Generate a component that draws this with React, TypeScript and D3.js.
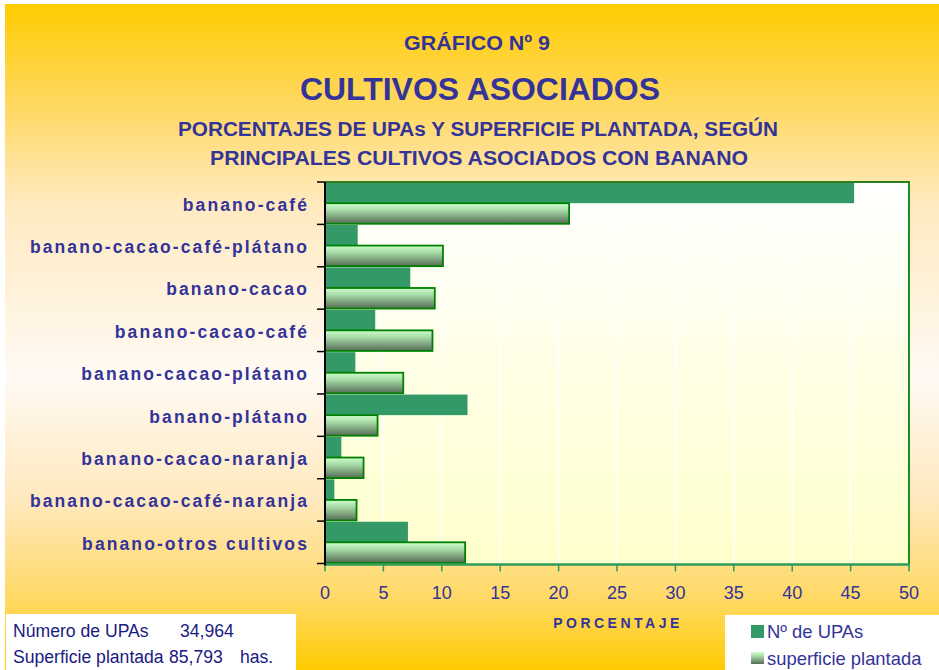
import React from "react";
import * as d3 from "d3";

const categories = [
  "banano-café",
  "banano-cacao-café-plátano",
  "banano-cacao",
  "banano-cacao-café",
  "banano-cacao-plátano",
  "banano-plátano",
  "banano-cacao-naranja",
  "banano-cacao-café-naranja",
  "banano-otros cultivos",
];
const upas = [45.3, 2.8, 7.3, 4.3, 2.6, 12.2, 1.4, 0.8, 7.1];
const superficie = [20.9, 10.1, 9.4, 9.2, 6.7, 4.5, 3.3, 2.7, 12.0];
const seriesNames = ["Nº de UPAs", "superficie plantada"];
const xTicks = [0, 5, 10, 15, 20, 25, 30, 35, 40, 45, 50];

const W = 939;
const H = 670;
const FONT = "'Liberation Sans', Arial, sans-serif";
const BLUE = "#333399";

export default function App() {
  const x = d3.scaleLinear().domain([0, 50]).range([325, 909]);
  const y = d3.scaleBand<string>().domain(categories).range([182, 563.5]).paddingInner(0);
  const sub = d3.scaleBand<string>().domain(["upas", "sup"]).range([0, y.bandwidth()]).paddingInner(0).paddingOuter(0.03);
  const plotTop = 182;
  const plotBottom = 564.5;
  const plotLeft = x(0);
  const plotRight = x(50);

  return (
    <svg width={W} height={H} style={{ position: "absolute", left: 0, top: 0 }} fontFamily={FONT}>
      <defs>
        <linearGradient id="bg" x1="0" y1="0" x2="0" y2="1">
          <stop offset="0" stopColor="#FFCC00" />
          <stop offset="0.15" stopColor="#FFD860" />
          <stop offset="0.3" stopColor="#FFEAC0" />
          <stop offset="0.56" stopColor="#FFFAF4" />
          <stop offset="0.75" stopColor="#FFE8BC" />
          <stop offset="0.9" stopColor="#FFD860" />
          <stop offset="1" stopColor="#FFCC00" />
        </linearGradient>
        <linearGradient id="plotbg" x1="0" y1="0" x2="0" y2="1">
          <stop offset="0" stopColor="#FFFFFF" />
          <stop offset="1" stopColor="#FFFFCC" />
        </linearGradient>
        <linearGradient id="barg" x1="0" y1="0" x2="0" y2="1">
          <stop offset="0" stopColor="#CCFFCC" />
          <stop offset="0.35" stopColor="#A6D9A6" />
          <stop offset="1" stopColor="#556B55" />
        </linearGradient>
      </defs>
      <rect x={0} y={0} width={W} height={H} fill="#FFFFFF" />
      <rect x={5} y={4} width={W - 5} height={H - 4} fill="url(#bg)" />

      {/* Titles */}
      <text x={404} y={50} fontSize={21} fontWeight="bold" fill={BLUE} textLength={146} lengthAdjust="spacingAndGlyphs">
        GRÁFICO Nº 9
      </text>
      <text x={300} y={100} fontSize={31} fontWeight="bold" fill={BLUE} textLength={360} lengthAdjust="spacingAndGlyphs">
        CULTIVOS ASOCIADOS
      </text>
      <text x={178} y={136} fontSize={20} fontWeight="bold" fill={BLUE} textLength={600} lengthAdjust="spacingAndGlyphs">
        PORCENTAJES DE UPAs Y SUPERFICIE PLANTADA, SEGÚN
      </text>
      <text x={210} y={165} fontSize={20} fontWeight="bold" fill={BLUE} textLength={538} lengthAdjust="spacingAndGlyphs">
        PRINCIPALES CULTIVOS ASOCIADOS CON BANANO
      </text>

      {/* Plot area */}
      <rect x={plotLeft} y={plotTop} width={plotRight - plotLeft} height={plotBottom - plotTop} fill="url(#plotbg)" />
      {xTicks.slice(1, -1).map((t) => (
        <line key={"g" + t} x1={x(t)} x2={x(t)} y1={plotTop} y2={plotBottom} stroke="#FFFFFF" strokeWidth={1.5} />
      ))}

      {/* Bars */}
      {categories.map((c, i) => {
        const y0 = y(c)!;
        return (
          <g key={c}>
            <rect
              x={x(0)}
              y={y0 + sub("upas")!}
              width={x(upas[i]) - x(0)}
              height={sub.bandwidth()}
              fill="#339966"
            />
            <rect
              x={x(0)}
              y={y0 + sub("sup")!}
              width={x(superficie[i]) - x(0)}
              height={sub.bandwidth()}
              fill="url(#barg)"
              stroke="#008000"
              strokeWidth={1.8}
            />
          </g>
        );
      })}

      {/* Plot borders */}
      <line x1={plotLeft} x2={plotRight + 1} y1={plotTop} y2={plotTop} stroke="#2E7D1E" strokeWidth={2} />
      <line x1={plotRight} x2={plotRight} y1={plotTop} y2={plotBottom} stroke="#1E8C1E" strokeWidth={2} />
      <line x1={plotLeft} x2={plotRight + 1} y1={plotBottom} y2={plotBottom} stroke="#2E9B5A" strokeWidth={2.5} />
      {xTicks.map((t) => (
        <line key={"t" + t} x1={x(t)} x2={x(t)} y1={plotBottom} y2={plotBottom + 7} stroke="#2E9B5A" strokeWidth={1.5} />
      ))}
      <line x1={plotLeft} x2={plotLeft} y1={plotTop} y2={plotBottom + 1} stroke="#000000" strokeWidth={2} />
      {[...categories.map((c) => y(c)!), y.range()[1]].map((v, i) => (
        <line key={"yt" + i} x1={plotLeft - 8} x2={plotLeft} y1={v} y2={v} stroke="#000000" strokeWidth={1.5} />
      ))}

      {/* Category labels */}
      {categories.map((c) => (
        <text
          key={"l" + c}
          x={309}
          y={y(c)! + y.bandwidth() / 2 + 7.5}
          textAnchor="end"
          fontSize={17.5}
          fontWeight="bold"
          fill={BLUE}
          letterSpacing={2.1}
        >
          {c}
        </text>
      ))}

      {/* X tick labels */}
      {xTicks.map((t) => (
        <text key={"xl" + t} x={x(t)} y={599} textAnchor="middle" fontSize={18} fill={BLUE}>
          {t}
        </text>
      ))}
      <text x={618} y={628} textAnchor="middle" fontSize={14} fontWeight="bold" fill={BLUE} letterSpacing={3.5}>
        PORCENTAJE
      </text>

      {/* Info box */}
      <rect x={6} y={614} width={290} height={56} fill="#FFFFFF" />
      <text x={13} y={637} fontSize={17.6} fill="#1A1A80">
        Número de UPAs
        <tspan x={180}>34,964</tspan>
      </text>
      <text x={13} y={662.5} fontSize={17.6} fill="#1A1A80">
        Superficie plantada
        <tspan x={169}>85,793</tspan>
        <tspan x={240}>has.</tspan>
      </text>

      {/* Legend */}
      <rect x={725} y={615} width={214} height={55} fill="#FFFFFF" />
      <rect x={751} y={625} width={13} height={13} fill="#339966" />
      <text x={767} y={638} fontSize={18.4} fill={BLUE}>
        {seriesNames[0]}
      </text>
      <rect x={751} y={652} width={13} height={12} fill="url(#barg)" />
      <text x={767} y={665} fontSize={18.4} fill={BLUE}>
        {seriesNames[1]}
      </text>
    </svg>
  );
}
